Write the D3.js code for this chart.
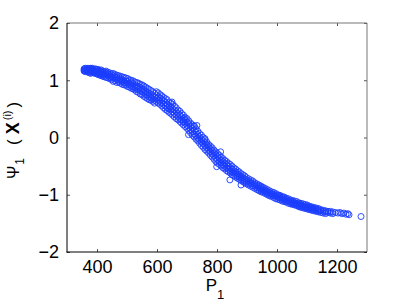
<!DOCTYPE html>
<html>
<head>
<meta charset="utf-8">
<script src="https://cdn.jsdelivr.net/npm/d3@7"></script>
<style>
  body { margin: 0; background: #fff; }
  svg { display: block; font-family: "Liberation Sans", Arial, sans-serif; }
</style>
</head>
<body>
<div class="chart"></div>
<script>
// P1 positions of the sample columns, and the Psi1 values read at each column
var p1Cols = [357, 361, 366, 370, 375, 379, 384, 389, 394, 399,
              404, 409, 414, 419, 424, 430, 436, 442, 448, 454,
              460, 466, 472, 478, 484, 490, 496, 502, 508, 514,
              520, 526, 532, 538, 544, 550, 556, 562, 568, 574,
              580, 586, 592, 598, 604, 610, 616, 622, 628, 634,
              640, 646, 652, 658, 664, 670, 676, 682, 688, 694,
              700, 706, 712, 718, 724, 730, 736, 742, 748, 754,
              760, 766, 772, 778, 784, 790, 796, 802, 808, 814,
              820, 826, 832, 838, 844, 850, 856, 862, 868, 874,
              880, 886, 892, 898, 905, 912, 919, 926, 933, 940,
              947, 954, 961, 968, 975, 982, 989, 996, 1003, 1010,
              1017, 1024, 1031, 1038, 1045, 1052, 1059, 1066, 1073, 1080,
              1087, 1094, 1101, 1108, 1115, 1122, 1130, 1138, 1146, 1154,
              1162, 1170, 1178, 1186, 1195, 1203, 1210, 1216, 1223, 1230,
              1236, 1240, 1280];

var psi1Cols = [
  [1.20, 1.18, 1.16], [1.21, 1.19, 1.17, 1.15], [1.20, 1.16, 1.18], [1.21, 1.17, 1.19, 1.14], [1.20, 1.15, 1.18, 1.13],
  [1.19, 1.16, 1.21, 1.12], [1.21, 1.14, 1.18, 1.16], [1.19, 1.13, 1.17, 1.15], [1.20, 1.12, 1.16, 1.14], [1.18, 1.11, 1.15, 1.19],
  [1.19, 1.10, 1.13, 1.16], [1.17, 1.09, 1.14, 1.12], [1.18, 1.08, 1.11, 1.15], [1.16, 1.07, 1.13, 1.10], [1.15, 1.06, 1.12, 1.09],
  [1.16, 1.05, 1.10, 1.13], [1.14, 1.04, 1.08, 1.11], [1.13, 1.03, 1.09, 1.06], [1.11, 1.01, 1.07, 1.04], [1.12, 0.98, 1.05, 1.08],
  [1.10, 0.99, 1.03, 1.06], [1.09, 0.96, 1.01, 1.05], [1.08, 0.97, 1.03, 1.00], [1.07, 0.95, 1.00, 1.03], [1.06, 0.93, 0.98, 1.01],
  [1.05, 0.92, 0.99, 0.96], [1.04, 0.91, 0.95, 0.99], [1.03, 0.89, 0.94, 0.98], [1.01, 0.88, 0.95, 0.92], [1.00, 0.86, 0.91, 0.96],
  [0.99, 0.85, 0.89, 0.94], [0.97, 0.83, 0.91, 0.87], [0.96, 0.80, 0.86, 0.90], [0.95, 0.79, 0.84, 0.89], [0.93, 0.76, 0.82, 0.88],
  [0.92, 0.75, 0.85, 0.80], [0.90, 0.72, 0.78, 0.84], [0.88, 0.70, 0.81, 0.75], [0.86, 0.68, 0.74, 0.79], [0.84, 0.66, 0.77, 0.71],
  [0.82, 0.65, 0.69, 0.75], [0.80, 0.63, 0.72, 0.67], [0.77, 0.60, 0.70, 0.65], [0.80, 0.63, 0.68, 0.74], [0.78, 0.60, 0.71, 0.65],
  [0.75, 0.58, 0.63, 0.69], [0.73, 0.55, 0.66, 0.60], [0.70, 0.52, 0.58, 0.64], [0.68, 0.49, 0.61, 0.55], [0.66, 0.47, 0.52, 0.58],
  [0.62, 0.44, 0.55, 0.50], [0.60, 0.42, 0.48, 0.53], [0.58, 0.39, 0.50, 0.45], [0.55, 0.36, 0.42, 0.48], [0.52, 0.33, 0.45, 0.39],
  [0.48, 0.31, 0.37, 0.42], [0.46, 0.28, 0.40, 0.33], [0.42, 0.25, 0.31, 0.36], [0.39, 0.22, 0.30, 0.27], [0.35, 0.19, 0.25, 0.31],
  [0.33, 0.16, 0.27, 0.21], [0.29, 0.12, 0.18, 0.24], [0.25, 0.08, 0.20, 0.14], [0.22, 0.04, 0.10, 0.16], [0.20, 0.01, 0.12, 0.06],
  [0.15, -0.03, 0.03, 0.09], [0.11, -0.06, 0.05, -0.01], [0.07, -0.10, -0.04, 0.01], [0.04, -0.14, -0.03, -0.08], [0.00, -0.17, -0.11, -0.06],
  [-0.04, -0.21, -0.09, -0.15], [-0.08, -0.24, -0.18, -0.13], [-0.12, -0.27, -0.16, -0.22], [-0.15, -0.31, -0.25, -0.20], [-0.18, -0.34, -0.23, -0.29],
  [-0.22, -0.38, -0.32, -0.27], [-0.25, -0.42, -0.30, -0.36], [-0.28, -0.45, -0.39, -0.33], [-0.31, -0.47, -0.37, -0.42], [-0.34, -0.50, -0.44, -0.39],
  [-0.37, -0.53, -0.42, -0.48], [-0.40, -0.55, -0.50, -0.45], [-0.42, -0.58, -0.47, -0.53], [-0.45, -0.60, -0.55, -0.50], [-0.47, -0.62, -0.53, -0.58],
  [-0.50, -0.65, -0.60, -0.55], [-0.53, -0.67, -0.58, -0.62], [-0.55, -0.69, -0.64, -0.60], [-0.58, -0.71, -0.63, -0.67], [-0.60, -0.73, -0.69, -0.65],
  [-0.63, -0.75, -0.68, -0.71], [-0.65, -0.77, -0.73, -0.70], [-0.67, -0.79, -0.72, -0.76], [-0.70, -0.81, -0.77, -0.74], [-0.72, -0.83, -0.76, -0.80],
  [-0.74, -0.85, -0.81, -0.78], [-0.76, -0.87, -0.80, -0.84], [-0.79, -0.89, -0.85, -0.82], [-0.81, -0.91, -0.84, -0.88], [-0.83, -0.93, -0.89, -0.86],
  [-0.85, -0.95, -0.88, -0.92], [-0.87, -0.96, -0.93, -0.90], [-0.89, -0.98, -0.92, -0.95], [-0.91, -1.00, -0.97, -0.94], [-0.93, -1.02, -0.96, -0.99],
  [-0.95, -1.03, -1.00, -0.98], [-0.96, -1.05, -0.99, -1.02], [-0.98, -1.07, -1.03, -1.01], [-1.00, -1.08, -1.02, -1.05], [-1.01, -1.09, -1.06, -1.04],
  [-1.03, -1.11, -1.05, -1.08], [-1.04, -1.12, -1.09, -1.07], [-1.06, -1.13, -1.08, -1.11], [-1.07, -1.15, -1.12, -1.10], [-1.09, -1.16, -1.11, -1.14],
  [-1.10, -1.17, -1.15, -1.13], [-1.11, -1.18, -1.14, -1.16], [-1.12, -1.19, -1.17, -1.15], [-1.14, -1.21, -1.16, -1.19], [-1.15, -1.22, -1.20, -1.18],
  [-1.16, -1.23, -1.19, -1.21], [-1.17, -1.24, -1.22, -1.20], [-1.18, -1.25, -1.21, -1.23], [-1.20, -1.26, -1.24, -1.22], [-1.21, -1.27, -1.23, -1.25],
  [-1.22, -1.28, -1.26, -1.24], [-1.23, -1.29, -1.25, -1.27], [-1.24, -1.30, -1.28, -1.26], [-1.26, -1.31, -1.28], [-1.27, -1.32, -1.29],
  [-1.28, -1.33, -1.30], [-1.29, -1.31], [-1.29, -1.32], [-1.30, -1.33], [-1.31],
  [-1.32], [-1.31], [-1.33], [-1.32], [-1.34],
  [-1.33], [-1.35], [-1.38]];

// a few stray samples off the main band
var strayP1 = [691, 724, 843, 799, 705, 812, 880, 650, 733, 760];
var strayPsi1 = [0.33, 0.20, -0.74, -0.51, 0.05, -0.25, -0.83, 0.62, 0.21, -0.02];

var xTicks = [400, 600, 800, 1000, 1200];
var yTicks = [-2, -1, 0, 1, 2];

var width = 405, height = 305,
    plot = {left: 67, right: 367, top: 23, bottom: 252};

// flatten the columns into points
var points = [];
p1Cols.forEach(function(p, i) {
  psi1Cols[i].forEach(function(v) { points.push([p, v]); });
});
strayP1.forEach(function(p, i) { points.push([p, strayPsi1[i]]); });

var x = d3.scaleLinear().domain([300, 1300]).range([plot.left, plot.right]);
var y = d3.scaleLinear().domain([-2, 2]).range([plot.bottom, plot.top]);

var svg = d3.select("div.chart")
  .append("svg")
    .attr("width", width)
    .attr("height", height);

// markers
svg.append("g")
  .selectAll("circle")
  .data(points)
  .enter().append("circle")
    .attr("cx", function(d) { return x(d[0]); })
    .attr("cy", function(d) { return y(d[1]); })
    .attr("r", 3)
    .attr("fill", "none")
    .attr("stroke", "#1a3cff")
    .attr("stroke-width", 0.9);

var fmt = function(d) { return d < 0 ? "\u2212" + Math.abs(d) : d; };

// axes, matlab style: ticks inside on all four sides
var axBottom = svg.append("g")
  .attr("transform", "translate(0," + plot.bottom + ")")
  .call(d3.axisBottom(x).tickValues(xTicks).tickSize(-3).tickPadding(8).tickFormat(fmt));
var axTop = svg.append("g")
  .attr("transform", "translate(0," + plot.top + ")")
  .call(d3.axisTop(x).tickValues(xTicks).tickSize(-3).tickFormat(""));
var axLeft = svg.append("g")
  .attr("transform", "translate(" + plot.left + ",0)")
  .call(d3.axisLeft(y).tickValues(yTicks).tickSize(-3).tickPadding(8).tickFormat(fmt));
var axRight = svg.append("g")
  .attr("transform", "translate(" + plot.right + ",0)")
  .call(d3.axisRight(y).tickValues(yTicks).tickSize(-3).tickFormat(""));

[axBottom, axTop, axLeft, axRight].forEach(function(g) {
  g.select(".domain").remove();
  g.selectAll(".tick line").attr("stroke", "#555");
  g.selectAll(".tick text")
    .attr("fill", "#000")
    .style("font-size", "18px")
    .style("font-family", "'Liberation Sans', Arial, sans-serif");
});

// box
svg.append("line").attr("x1", plot.left).attr("x2", plot.right)
  .attr("y1", plot.top).attr("y2", plot.top).attr("stroke", "#777");
svg.append("line").attr("x1", plot.right).attr("x2", plot.right)
  .attr("y1", plot.top).attr("y2", plot.bottom).attr("stroke", "#777");
svg.append("line").attr("x1", plot.left).attr("x2", plot.left)
  .attr("y1", plot.top).attr("y2", plot.bottom + 0.5).attr("stroke", "#000");
svg.append("line").attr("x1", plot.left - 0.5).attr("x2", plot.right)
  .attr("y1", plot.bottom).attr("y2", plot.bottom).attr("stroke", "#000");

// x label
var xl = svg.append("text")
  .attr("x", 215)
  .attr("y", 291)
  .attr("text-anchor", "middle")
  .style("font-size", "17px");
xl.append("tspan").text("P");
xl.append("tspan").attr("dy", 8).style("font-size", "13px").text("1");

// y label, laid out from its start at the bottom
var yl = svg.append("text")
  .attr("transform", "translate(19,179) rotate(-90)")
  .attr("text-anchor", "start")
  .style("font-size", "16px");
yl.append("tspan").text("\u03A8");
yl.append("tspan").attr("dx", 1).attr("dy", 5).style("font-size", "12px").text("1");
yl.append("tspan").attr("dx", 13).attr("dy", -5).style("font-size", "17px").style("font-weight", "300").text("(");
yl.append("tspan").attr("dx", 5).style("font-weight", "bold").style("font-size", "18px").text("X");
yl.append("tspan").attr("dx", 2).attr("dy", -8).style("font-size", "11px").text("(i)");
yl.append("tspan").attr("dx", 3).attr("dy", 8).style("font-size", "17px").text(")");
</script>
</body>
</html>
